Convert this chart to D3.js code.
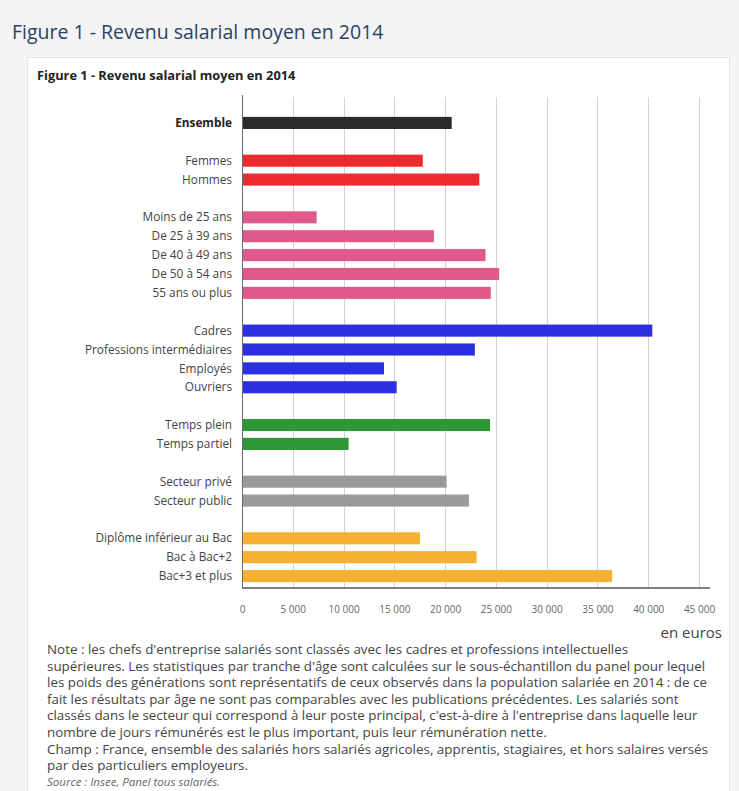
<!DOCTYPE html>
<html lang="fr">
<head>
<meta charset="utf-8">
<title>Figure 1 - Revenu salarial moyen en 2014</title>
<script src="https://cdn.jsdelivr.net/npm/d3@7"></script>
<style>
  html, body { margin: 0; padding: 0; background: #f4f4f4; }
  #chart { width: 739px; height: 791px; }
</style>
</head>
<body>
<div id="chart"></div>
<script>
// Données (euros)
const categories = [
  'Ensemble',
  'Femmes', 'Hommes',
  'Moins de 25 ans', 'De 25 à 39 ans', 'De 40 à 49 ans', 'De 50 à 54 ans', '55 ans ou plus',
  'Cadres', 'Professions intermédiaires', 'Employés', 'Ouvriers',
  'Temps plein', 'Temps partiel',
  'Secteur privé', 'Secteur public',
  'Diplôme inférieur au Bac', 'Bac à Bac+2', 'Bac+3 et plus'
];
const values = [
  20650,
  17800, 23370,
  7350, 18900, 23980, 25320, 24500,
  40400, 22930, 13980, 15230,
  24420, 10500,
  20150, 22340,
  17520, 23100, 36450
];
// groupe de chaque catégorie (sert pour la couleur et les séparations)
const groups = [
  'ensemble',
  'sexe', 'sexe',
  'age', 'age', 'age', 'age', 'age',
  'csp', 'csp', 'csp', 'csp',
  'temps', 'temps',
  'secteur', 'secteur',
  'diplome', 'diplome', 'diplome'
];
const groupColors = {
  ensemble: '#2b2b2d',
  sexe: '#ec2a30',
  age: '#df5b8c',
  csp: '#2b2fe0',
  temps: '#2f9638',
  secteur: '#9a9a9a',
  diplome: '#f6b132'
};
const tickValues = [0, 5000, 10000, 15000, 20000, 25000, 30000, 35000, 40000, 45000];
const noteLines = [
  "Note : les chefs d'entreprise salariés sont classés avec les cadres et professions intellectuelles",
  "supérieures. Les statistiques par tranche d'âge sont calculées sur le sous-échantillon du panel pour lequel",
  "les poids des générations sont représentatifs de ceux observés dans la population salariée en 2014 : de ce",
  "fait les résultats par âge ne sont pas comparables avec les publications précédentes. Les salariés sont",
  "classés dans le secteur qui correspond à leur poste principal, c'est-à-dire à l'entreprise dans laquelle leur",
  "nombre de jours rémunérés est le plus important, puis leur rémunération nette.",
  "Champ : France, ensemble des salariés hors salariés agricoles, apprentis, stagiaires, et hors salaires versés",
  "par des particuliers employeurs."
];
const sourceLine = "Source : Insee, Panel tous salariés.";

const width = 739;
const height = 791;
const font = "'Open Sans', 'Noto Sans', sans-serif";

// 1. lignes de la catégorie + lignes vides entre les groupes
const data = categories.map((c, i) => ({ name: c, value: values[i], group: groups[i] }));
const rows = [];
data.forEach((d, i) => {
  if (i > 0 && d.group !== data[i - 1].group) rows.push('__gap' + i);
  rows.push(d.name);
});

const svg = d3.select('#chart')
  .append('svg')
  .attr('width', width)
  .attr('height', height)
  .attr('viewBox', [0, 0, width, height])
  .style('font-family', font);

// titre de la page
svg.append('text')
  .attr('x', 12)
  .attr('y', 39)
  .attr('font-size', 19.5)
  .attr('fill', '#2b4262')
  .text('Figure 1 - Revenu salarial moyen en 2014');

// 2. panneau blanc
svg.append('rect')
  .attr('x', 27.5)
  .attr('y', 57.5)
  .attr('width', 702)
  .attr('height', 760)
  .attr('fill', '#fff')
  .attr('stroke', '#e4e4e4');

svg.append('text')
  .attr('x', 37)
  .attr('y', 80)
  .attr('font-size', 12.8)
  .attr('font-weight', 700)
  .attr('fill', '#222')
  .text('Figure 1 - Revenu salarial moyen en 2014');

// 3. échelles
const x = d3.scaleLinear()
  .domain([0, 45000])
  .range([242, 699]);

const y = d3.scaleBand()
  .domain(rows)
  .range([113.5, 585.5])
  .paddingInner(0.36)
  .paddingOuter(0.18);

const plotTop = 97;
const plotBottom = 588;

// grille verticale
svg.append('g')
  .selectAll('line')
  .data(tickValues.filter(t => t > 0))
  .join('line')
  .attr('x1', d => Math.round(x(d)) + 0.5)
  .attr('x2', d => Math.round(x(d)) + 0.5)
  .attr('y1', plotTop)
  .attr('y2', plotBottom)
  .attr('stroke', '#d2d2d6')
  .attr('stroke-width', 1);

// 4. barres
svg.append('g')
  .selectAll('rect')
  .data(data)
  .join('rect')
  .attr('x', x(0))
  .attr('y', d => y(d.name))
  .attr('width', d => x(d.value) - x(0))
  .attr('height', y.bandwidth())
  .attr('fill', d => groupColors[d.group]);

// axe vertical (ligne du zéro)
svg.append('line')
  .attr('x1', x(0) + 0.5)
  .attr('x2', x(0) + 0.5)
  .attr('y1', plotTop - 2)
  .attr('y2', plotBottom)
  .attr('stroke', '#6b6b70')
  .attr('stroke-width', 1);

// libellés des catégories
svg.append('g')
  .selectAll('text')
  .data(data)
  .join('text')
  .attr('x', 232)
  .attr('y', d => y(d.name) + y.bandwidth() / 2)
  .attr('dy', '0.35em')
  .attr('text-anchor', 'end')
  .attr('font-size', 11.8)
  .attr('font-weight', d => d.group === 'ensemble' ? 700 : 400)
  .attr('fill', d => d.group === 'ensemble' ? '#222' : '#444')
  .text(d => d.name);

// 5. axe horizontal
const fr = d3.formatLocale({ decimal: ',', thousands: '\u00a0', grouping: [3], currency: ['', ' €'] });
const xAxis = d3.axisBottom(x)
  .tickValues(tickValues)
  .tickFormat(fr.format(',d'))
  .tickSize(0)
  .tickPadding(18);

const axisG = svg.append('g')
  .attr('transform', `translate(0,${plotBottom})`)
  .call(xAxis);
axisG.select('.domain').remove();
axisG.selectAll('text')
  .attr('font-family', font)
  .attr('font-size', 10)
  .attr('fill', '#666');

svg.append('line')
  .attr('x1', x(0))
  .attr('x2', 710)
  .attr('y1', plotBottom)
  .attr('y2', plotBottom)
  .attr('stroke', '#55565c')
  .attr('stroke-width', 1.5);

svg.append('text')
  .attr('x', 722)
  .attr('y', 638)
  .attr('text-anchor', 'end')
  .attr('font-size', 15)
  .attr('fill', '#444')
  .text('en euros');

// 6. notes
svg.append('g')
  .selectAll('text')
  .data(noteLines)
  .join('text')
  .attr('x', 47)
  .attr('y', (d, i) => 654 + i * 16.6)
  .attr('font-size', 13.4)
  .attr('fill', '#444')
  .text(d => d);

svg.append('text')
  .attr('x', 47)
  .attr('y', 786)
  .attr('font-size', 11.5)
  .attr('font-style', 'italic')
  .attr('fill', '#666')
  .text(sourceLine);
</script>
</body>
</html>
